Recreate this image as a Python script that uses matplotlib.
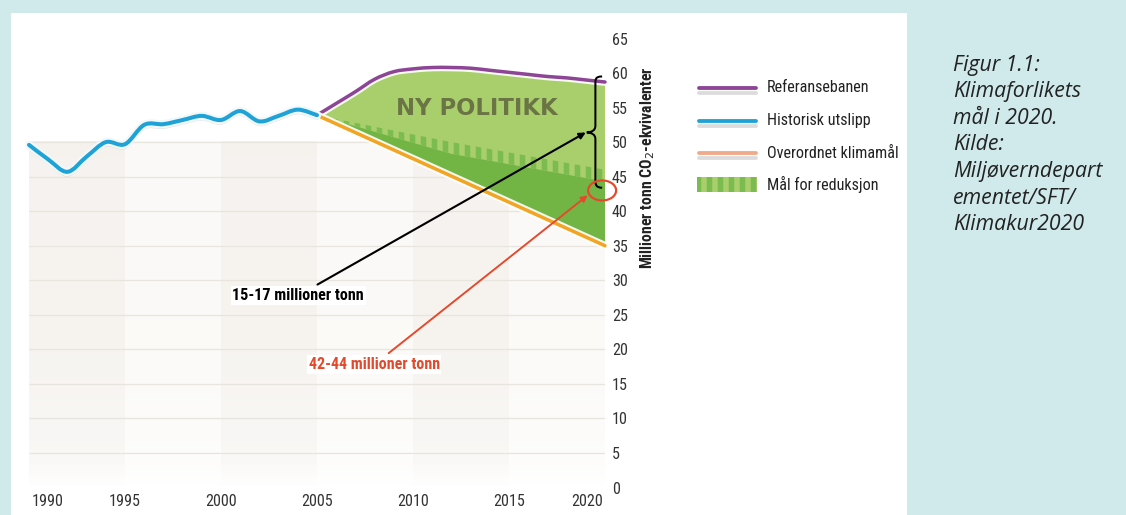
import numpy as np
import matplotlib
matplotlib.use("Agg")
import matplotlib.pyplot as plt
from matplotlib import font_manager
from matplotlib.font_manager import FontProperties
from matplotlib import patheffects as pe
from matplotlib.patches import Rectangle, Ellipse, PathPatch
from matplotlib.path import Path
from matplotlib.transforms import ScaledTranslation

# ---------------------------------------------------------------- data
hist_years = [1990, 1991, 1992, 1993, 1994, 1995, 1996, 1997,
              1998, 1999, 2000, 2001, 2002, 2003, 2004, 2005]
hist_emissions = [49.6, 47.5, 45.7, 47.9, 50.0, 49.7, 52.5, 52.6,
                  53.2, 53.8, 53.2, 54.5, 53.0, 53.8, 54.7, 53.9]

proj_years = [2005, 2006, 2007, 2008, 2009, 2010, 2011, 2012,
              2013, 2014, 2015, 2016, 2017, 2018, 2019, 2020]
reference_path = [53.9, 55.6, 57.3, 59.1, 60.2, 60.6, 60.8, 60.8,
                  60.7, 60.4, 60.1, 59.8, 59.5, 59.3, 59.0, 58.7]

goal_years = [2005, 2020]
goal_path = [53.9, 35.0]

band_years = [2005, 2012, 2020]
band_low = [53.9, 48.3, 44.3]
band_high = [53.9, 50.0, 46.0]

brace_top, brace_mid, brace_bottom = 59.5, 51.4, 43.4
target_2020 = 43.0

year_ticks = [1990, 1995, 2000, 2005, 2010, 2015, 2020]
value_ticks = list(range(0, 70, 5))
grid_values = list(range(5, 55, 5))

legend_labels = ["Referansebanen", "Historisk utslipp",
                 "Overordnet klimamål", "Mål for reduksjon"]
caption_lines = ["Figur 1.1:", "Klimaforlikets", "mål i 2020.", "Kilde:",
                 "Miljøverndepart", "ementet/SFT/", "Klimakur2020"]

# ---------------------------------------------------------------- styles
W, H, DPI = 1126, 515, 132
C_BG = "#d0eaeb"
C_BLUE = "#1fa3d6"
C_PURPLE = "#8d4596"
C_ORANGE = "#f2a422"
C_LEG_ORANGE = "#f0aa8a"
C_LIGHT_GREEN = "#a9cf6c"
C_DARK_GREEN = "#72b545"
C_TEETH = "#7cbb4f"
C_RED = "#e5492c"

ttf = font_manager.fontManager.ttflist
names = {f.name for f in ttf}
NARROW = next((n for n in ["Liberation Sans Narrow", "Roboto Condensed",
                           "Open Sans Condensed", "DejaVu Sans Condensed"]
               if n in names), "Liberation Sans")


def italic_face():
    """Regular-width, regular-weight italic face, picked deterministically."""
    for fam in ["Open Sans", "Noto Sans", "Lato", "Roboto", "DejaVu Sans"]:
        cands = sorted(
            (f for f in ttf
             if f.name == fam and f.style in ("italic", "oblique")
             and "condensed" not in f.fname.lower()
             and "narrow" not in f.fname.lower()
             and f.weight in (400, "normal", "regular", "book")),
            key=lambda f: f.fname)
        if cands:
            return FontProperties(fname=cands[0].fname)
    return FontProperties(family="DejaVu Sans", style="italic")


CAPTION_FP = italic_face()
CAPTION_FP.set_size(11.6)

plt.rcParams["hatch.linewidth"] = 3.0


def smooth_path(xs, ys):
    """Cubic Bezier path through every point (Catmull-Rom tangents)."""
    p = np.column_stack([xs, ys]).astype(float)
    ext = np.vstack([p[0], p, p[-1]])
    verts, codes = [tuple(p[0])], [Path.MOVETO]
    for i in range(len(p) - 1):
        p0, p1, p2, p3 = ext[i], ext[i + 1], ext[i + 2], ext[i + 3]
        c1 = p1 + (p2 - p0) / 6.0
        c2 = p2 - (p3 - p1) / 6.0
        verts += [tuple(c1), tuple(c2), tuple(p2)]
        codes += [Path.CURVE4] * 3
    return Path(verts, codes)


fig = plt.figure(figsize=(W / DPI, H / DPI), dpi=DPI)
fig.patch.set_facecolor(C_BG)

# white chart panel inside the cyan frame
fig.patches.append(Rectangle((11 / W, 0), (907 - 11) / W, (H - 13) / H,
                             transform=fig.transFigure, facecolor="white",
                             edgecolor="none", zorder=-5))

ax = fig.add_axes([29 / W, 27.5 / H, 576 / W, 449 / H])
ax.patch.set_visible(False)
for s in ax.spines.values():
    s.set_visible(False)

# soft beige backdrop with vertical bands and horizontal grid
alpha = np.interp(np.linspace(0, 50, 200), [0, 4, 20, 50], [0.0, 0.3, 0.55, 0.6])
grad = np.zeros((200, 1, 4))
grad[..., 0], grad[..., 1], grad[..., 2] = 0.975, 0.965, 0.95
grad[:, 0, 3] = alpha
ax.imshow(grad, extent=[1990, 2020, 0, 50], origin="lower", aspect="auto",
          zorder=0, interpolation="bilinear")
band = np.zeros((200, 1, 4))
band[..., 0], band[..., 1], band[..., 2] = 0.945, 0.925, 0.9
band[:, 0, 3] = alpha * 0.75
for x0 in (1990, 2000, 2010):
    ax.imshow(band, extent=[x0, x0 + 5, 0, 50], origin="lower",
              aspect="auto", zorder=0.5, interpolation="bilinear")
ax.set_xlim(1990, 2020)
ax.set_ylim(0, 65)
ax.hlines(grid_values, 1990, 2020, colors="#e8e4de", lw=0.7, zorder=1)

# projected area: light green between reference path and overall goal
ref_curve = smooth_path(proj_years, reference_path)
ref_poly = ref_curve.to_polygons(closed_only=False)[0]
ax.fill(np.r_[ref_poly[:, 0], goal_years[::-1]],
        np.r_[ref_poly[:, 1], goal_path[::-1]],
        facecolor=C_LIGHT_GREEN, edgecolor="none", zorder=2)
# reduction target: solid part plus comb of stripes
ax.fill(np.r_[goal_years, band_years[::-1]],
        np.r_[goal_path, band_low[::-1]],
        facecolor=C_DARK_GREEN, edgecolor="none", zorder=3)
ax.fill(np.r_[band_years, band_years[::-1]],
        np.r_[band_high, band_low[::-1]],
        facecolor="none", edgecolor=C_TEETH, hatch="||", lw=0, zorder=3)

ax.text(2013.3, 54.8, "NY POLITIKK", family="DejaVu Sans", weight="bold",
        fontsize=12.4, color="#6a7444", ha="center", va="center", zorder=4)

halo = [pe.Stroke(linewidth=4.2, foreground="white", alpha=0.9), pe.Normal()]
ax.add_patch(PathPatch(ref_curve, facecolor="none", edgecolor=C_PURPLE,
                       lw=1.9, capstyle="round", path_effects=halo,
                       zorder=5, clip_on=False))
ax.plot(goal_years, goal_path, color=C_ORANGE, lw=1.9,
        solid_capstyle="round", path_effects=halo, zorder=5, clip_on=False)
ax.add_patch(PathPatch(smooth_path(hist_years, hist_emissions),
                       facecolor="none", edgecolor=C_BLUE, lw=2.2,
                       capstyle="round", joinstyle="round",
                       path_effects=[pe.SimpleLineShadow(offset=(0, -1.5),
                                                         shadow_color="#9a9a9a",
                                                         alpha=0.25),
                                     pe.Stroke(linewidth=4.6, foreground="#f2f8fa"),
                                     pe.Normal()],
                       zorder=6, clip_on=False))

# curly brace spanning reference and target in 2020
xb, xt, xe = 2019.5, 2019.05, 2019.85
verts = [(xe, brace_top),
         (xb, brace_top), (xb, brace_top - 0.4), (xb, brace_top - 1.0),
         (xb, brace_mid + 1.0),
         (xb, brace_mid + 0.25), (xb - 0.2, brace_mid + 0.05), (xt, brace_mid),
         (xb - 0.2, brace_mid - 0.05), (xb, brace_mid - 0.25), (xb, brace_mid - 1.0),
         (xb, brace_bottom + 1.0),
         (xb, brace_bottom + 0.4), (xb + 0.05, brace_bottom), (xe, brace_bottom)]
codes = [Path.MOVETO,
         Path.CURVE4, Path.CURVE4, Path.CURVE4,
         Path.LINETO,
         Path.CURVE4, Path.CURVE4, Path.CURVE4,
         Path.CURVE4, Path.CURVE4, Path.CURVE4,
         Path.LINETO,
         Path.CURVE4, Path.CURVE4, Path.CURVE4]
ax.add_patch(PathPatch(Path(verts, codes), facecolor="none", edgecolor="black",
                       lw=1.1, zorder=7, clip_on=False))

ax.add_patch(Ellipse((2019.85, target_2020), 1.46, 2.9, facecolor="none",
                     edgecolor=C_RED, lw=1.2, zorder=7, clip_on=False))

label_font = dict(family=NARROW, weight="bold", fontsize=8.8)
ax.annotate("15-17 millioner tonn", xy=(xt - 0.05, brace_mid),
            xytext=(2007.45, 27.8), ha="right", va="center", color="black",
            arrowprops=dict(arrowstyle="-|>", color="black", lw=1.15,
                            mutation_scale=7, shrinkA=2, shrinkB=0),
            bbox=dict(boxstyle="square,pad=0.1", fc="white", ec="none"),
            zorder=8, **label_font)
ax.annotate("42-44 millioner tonn", xy=(2019.1, 42.3),
            xytext=(2011.4, 17.8), ha="right", va="center", color=C_RED,
            arrowprops=dict(arrowstyle="-|>", color=C_RED, lw=1.05,
                            mutation_scale=7, shrinkA=2, shrinkB=0),
            bbox=dict(boxstyle="square,pad=0.1", fc="white", ec="none"),
            zorder=8, **label_font)

# axes ticks and labels
ax.set_xticks(year_ticks)
ax.set_xticklabels([str(y) for y in year_ticks])
ax.set_yticks(value_ticks)
ax.set_yticklabels([str(v) for v in value_ticks])
ax.yaxis.tick_right()
ax.tick_params(axis="both", length=0, colors="#333333", labelsize=8.8)
ax.tick_params(axis="x", pad=3.8)
ax.tick_params(axis="y", pad=3.8)
for lab in ax.get_xticklabels() + ax.get_yticklabels():
    lab.set_family(NARROW)
xl = ax.get_xticklabels()
xl[0].set_transform(xl[0].get_transform() + ScaledTranslation(19 / DPI, 0, fig.dpi_scale_trans))
xl[-1].set_transform(xl[-1].get_transform() + ScaledTranslation(-18 / DPI, 0, fig.dpi_scale_trans))

fig.text(648 / W, 1 - 168 / H, "Millioner tonn CO$_2$-ekvivalenter",
         rotation=90, ha="center", va="center", family=NARROW,
         weight="bold", fontsize=8.6, color="#222222")

# legend drawn in pixel space
lax = fig.add_axes([0, 0, 1, 1])
lax.set_xlim(0, W)
lax.set_ylim(H, 0)
lax.axis("off")
shadow = [pe.SimpleLineShadow(offset=(0, -2.5), shadow_color="#777777", alpha=0.25),
          pe.Normal()]
for lab, col, y in zip(legend_labels[:3], [C_PURPLE, C_BLUE, C_LEG_ORANGE],
                       [88, 121, 153]):
    lax.plot([699, 756], [y, y], color=col, lw=2.1, solid_capstyle="round",
             path_effects=shadow)
    lax.text(767, y, lab, family=NARROW, fontsize=8.8, color="#222222",
             ha="left", va="center")
lax.add_patch(Rectangle((697, 177), 60, 15, facecolor=C_LIGHT_GREEN,
                        edgecolor=C_TEETH, hatch="||", lw=0))
lax.text(767, 184, legend_labels[3], family=NARROW, fontsize=8.8,
         color="#222222", ha="left", va="center")

# caption in the right-hand column
for i, line in enumerate(caption_lines):
    lax.text(953, 65 + i * 26.6, line, fontproperties=CAPTION_FP,
             color="#222222", ha="left", va="center")

fig.savefig("out.png", dpi=DPI, facecolor=fig.get_facecolor())
